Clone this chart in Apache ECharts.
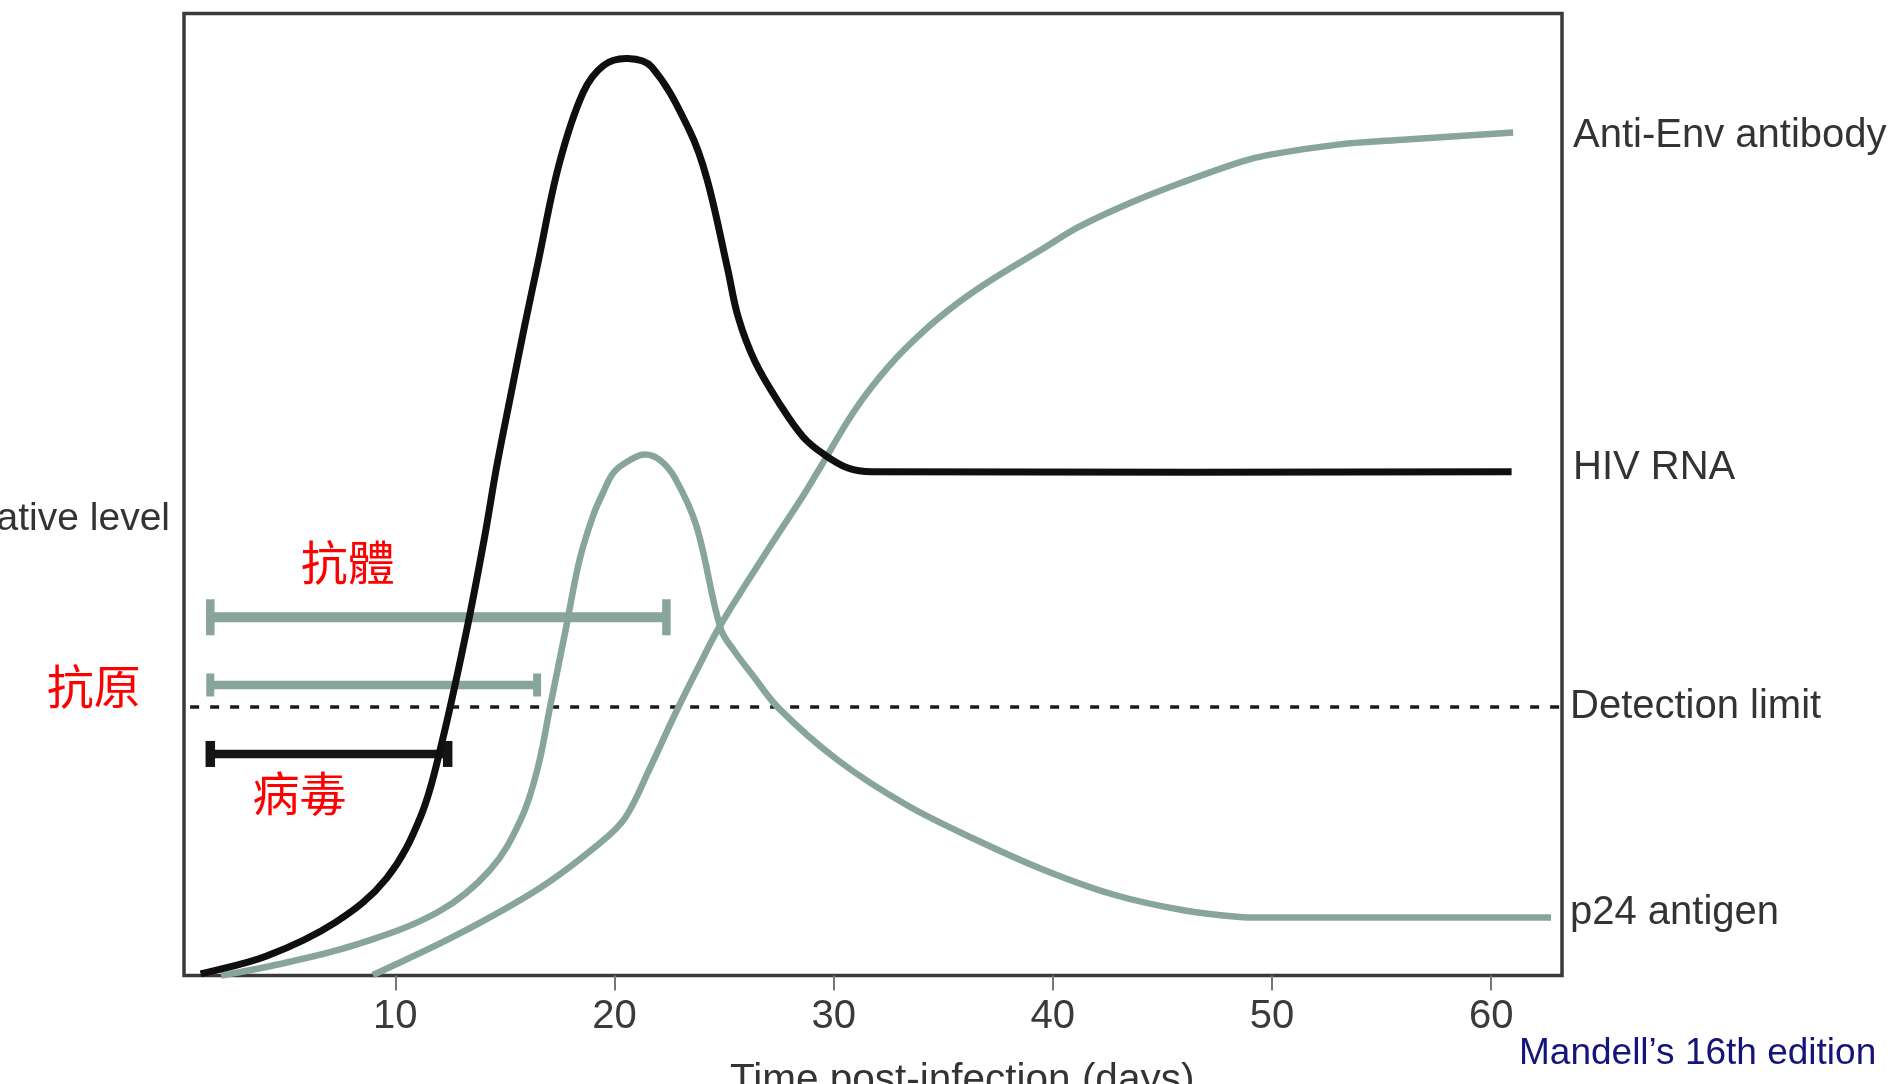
<!DOCTYPE html>
<html><head><meta charset="utf-8">
<script src="https://cdn.jsdelivr.net/npm/echarts@6/dist/echarts.min.js"></script>
<style>html,body{margin:0;padding:0;background:#fff}#c{width:1893px;height:1084px}</style>
</head><body><div id="c"></div>
<script>
// ---- data (x = days post-infection, y = relative level 0..100) ----
const tickDays = [10, 20, 30, 40, 50, 60];

const hivRnaDays  = [1.12, 4.10, 7.25, 9.60, 11.17, 12.12, 13.23, 14.05, 14.64, 15.26, 15.89, 16.52, 17.46, 18.56, 19.50, 20.60, 21.70, 23.43, 24.22, 25.16, 25.64, 26.41, 27.51, 28.61, 29.56, 30.65, 31.75, 60.93];
const hivRnaLevel = [0.16, 2.00, 5.50, 10.10, 16.60, 24.17, 35.60, 45.27, 53.07, 60.24, 67.41, 74.20, 84.22, 91.74, 94.60, 95.32, 94.44, 87.80, 82.80, 73.48, 68.47, 63.82, 59.51, 55.98, 54.16, 52.75, 52.36, 52.36];

const p24Days  = [2.05, 4.10, 8.02, 11.95, 14.32, 15.74, 16.51, 17.06, 17.78, 18.40, 19.02, 19.50, 19.98, 20.71, 21.39, 22.07, 22.76, 23.74, 24.85, 25.50, 26.26, 27.51, 30.18, 33.33, 36.47, 39.60, 42.75, 45.89, 48.54, 49.91, 62.73];
const p24Level = [0.00, 0.88, 3.07, 6.60, 10.97, 16.27, 21.67, 27.91, 36.02, 43.14, 47.77, 50.30, 52.34, 53.59, 54.16, 53.59, 51.72, 46.72, 36.02, 33.63, 31.34, 27.74, 22.40, 17.72, 14.14, 10.97, 8.42, 6.81, 6.08, 6.03, 6.03];

const antiEnvDays  = [8.98, 12.72, 16.60, 19.34, 20.48, 21.62, 22.81, 23.90, 24.81, 27.05, 28.60, 29.29, 30.97, 32.53, 34.12, 35.67, 37.26, 39.60, 41.18, 43.52, 45.89, 48.54, 49.86, 53.00, 56.14, 61.00];
const antiEnvLevel = [0.05, 4.11, 9.10, 13.77, 16.37, 21.57, 27.39, 32.38, 36.33, 44.44, 49.84, 52.44, 58.78, 63.36, 67.00, 69.91, 72.40, 75.62, 77.81, 80.30, 82.43, 84.56, 85.30, 86.37, 86.90, 87.62];

const detectionLimitDays = [0.64, 63.23];
const detectionLimitLevel = 27.91;

// detection windows: [start day, end day, level]
const antibodyWindow = [1.56, 22.37, 37.24];
const antigenWindow  = [1.56, 16.47, 30.20];
const virusWindow    = [1.56, 12.39, 23.03];

const zip = (xs, ys) => xs.map((x, i) => [x, ys[i]]);

// ---- styles ----
const GREEN = '#88a59b';
const BLACK = '#0f0f0f';
const LATIN = '"Liberation Sans", Arial, Helvetica, sans-serif';
const CJK = '"Noto Sans CJK TC", "Noto Sans CJK SC", sans-serif';

// smooth curve through the data points, positioned with the chart's own scales (api.coord)
function curveSeries(name, pts, color, width, z) {
  return {
    type: 'custom', name: name, data: pts, z: z,
    encode: { x: 0, y: 1 },
    renderItem: function (params, api) {
      if (params.dataIndex !== 0) return null;
      const p = pts.map(d => api.coord(d));
      const n = p.length;
      const tan = p.map((_, i) => {
        const a = p[Math.max(i - 1, 0)], b = p[Math.min(i + 1, n - 1)];
        const l = Math.hypot(b[0] - a[0], b[1] - a[1]) || 1;
        return [(b[0] - a[0]) / l, (b[1] - a[1]) / l];
      });
      let path = 'M' + p[0][0] + ',' + p[0][1];
      for (let i = 0; i < n - 1; i++) {
        const a = p[i], b = p[i + 1];
        const L = Math.hypot(b[0] - a[0], b[1] - a[1]) * 0.36;
        const c1 = [a[0] + tan[i][0] * L, a[1] + tan[i][1] * L];
        const c2 = [b[0] - tan[i + 1][0] * L, b[1] - tan[i + 1][1] * L];
        path += ' C' + c1[0] + ',' + c1[1] + ' ' + c2[0] + ',' + c2[1] + ' ' + b[0] + ',' + b[1];
      }
      return {
        type: 'path', shape: { pathData: path },
        style: { stroke: color, lineWidth: width, fill: null, lineJoin: 'round' }
      };
    }
  };
}

function windowSeries(name, item, color, width, capHalf, capWidth) {
  return {
    type: 'custom', name: name, data: [item], z: 2,
    encode: { x: [0, 1], y: 2 },
    renderItem: function (params, api) {
      const a = api.coord([api.value(0), api.value(2)]);
      const b = api.coord([api.value(1), api.value(2)]);
      const st = { stroke: color, lineWidth: width };
      const cs = { stroke: color, lineWidth: capWidth };
      return {
        type: 'group', children: [
          { type: 'line', shape: { x1: a[0], y1: a[1], x2: b[0], y2: b[1] }, style: st },
          { type: 'line', shape: { x1: a[0], y1: a[1] - capHalf, x2: a[0], y2: a[1] + capHalf }, style: cs },
          { type: 'line', shape: { x1: b[0], y1: b[1] - capHalf, x2: b[0], y2: b[1] + capHalf }, style: cs }
        ]
      };
    }
  };
}

function txt(text, x, y, opts) {
  return {
    type: 'text', x: x, y: y, z: 10, silent: true,
    style: Object.assign({ text: text, fontFamily: LATIN, fontSize: 40, fill: '#333', align: 'left', verticalAlign: 'middle' }, opts || {})
  };
}

const chart = echarts.init(document.getElementById('c'), null, { renderer: 'canvas' });
chart.setOption({
  animation: false,
  backgroundColor: '#fff',
  grid: { left: 184, right: 331, top: 13.5, bottom: 108.5, show: true, borderColor: '#3a3a3a', borderWidth: 3.5, containLabel: false, outerBoundsMode: 'none' },
  xAxis: {
    type: 'value', min: 0.36, max: 63.23,
    axisLine: { show: false },
    splitLine: { show: false },
    axisTick: { show: true, customValues: tickDays, length: 15, lineStyle: { color: '#777', width: 2 } },
    axisLabel: { customValues: tickDays, fontSize: 40, color: '#3a3a3a', margin: 21, fontFamily: LATIN }
  },
  yAxis: { type: 'value', min: 0, max: 100, show: false },
  series: [
    {
      name: 'Detection limit', type: 'line', z: 1, symbol: 'none',
      data: detectionLimitDays.map(d => [d, detectionLimitLevel]),
      lineStyle: { color: '#1a1a1a', width: 3.5, type: [9, 11] }
    },
    windowSeries('抗體', antibodyWindow, GREEN, 10, 18, 8.5),
    windowSeries('抗原', antigenWindow, GREEN, 8.5, 11.5, 8),
    windowSeries('病毒', virusWindow, '#151515', 8.5, 13, 9.5),
    curveSeries('p24 antigen', zip(p24Days, p24Level), GREEN, 6.5, 3),
    curveSeries('Anti-Env antibody', zip(antiEnvDays, antiEnvLevel), GREEN, 6.5, 3),
    curveSeries('HIV RNA', zip(hivRnaDays, hivRnaLevel), BLACK, 7, 4)
  ],
  graphic: [
    txt('Relative level', 170, 519, { align: 'right', fontSize: 39 }),
    txt('Anti-Env antibody', 1573, 136),
    txt('HIV RNA', 1573, 468),
    txt('Detection limit', 1570, 707),
    txt('p24 antigen', 1570, 913),
    txt('Time post-infection (days)', 730, 1060, { fontSize: 40.5, verticalAlign: 'top' }),
    txt('Mandell\u2019s 16th edition', 1519, 1054, { fontSize: 37, fill: '#14147a' }),
    txt('抗體', 347.7, 562.3, { fontFamily: CJK, fontSize: 47, fill: '#ff0000', align: 'center' }),
    txt('抗原', 93.8, 686.5, { fontFamily: CJK, fontSize: 47, fill: '#ff0000', align: 'center' }),
    txt('病毒', 299.5, 793.5, { fontFamily: CJK, fontSize: 47, fill: '#ff0000', align: 'center' })
  ]
});
</script>
</body></html>
